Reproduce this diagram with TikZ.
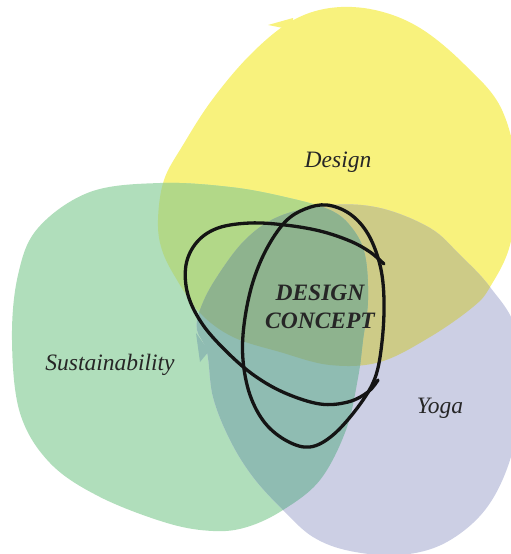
\documentclass[tikz,border=0pt]{standalone}
\usepackage{fontspec}
\setmainfont{Liberation Serif}
\definecolor{cYellow}{HTML}{F8F27D}
\definecolor{cGreen}{HTML}{B0DEBB}
\definecolor{cLav}{HTML}{CCCFE4}
\definecolor{cYG}{HTML}{B2D888}
\definecolor{cYL}{HTML}{CDCB87}
\definecolor{cGL}{HTML}{8FBCB2}
\definecolor{cAll}{HTML}{8EB38E}
\definecolor{cInk}{HTML}{141414}
\definecolor{cText}{HTML}{262626}
% the three blobs, in picture units (1pt, y pointing down)
\def\blobDesign{plot[smooth cycle, tension=0.6] coordinates {
  (290,22) (330,8) (375,10) (420,28) (465,65) (502,110) (518,180) (510,245)
  (490,287) (473,307) (430,337) (380,362) (330,365) (280,352) (233,337)
  (200,313) (177,280) (162,250) (158,220) (164,180) (183,145) (212,100) (250,55)}}
\def\blobSust{plot[smooth cycle, tension=0.6] coordinates {
  (90,192) (160,183) (230,187) (285,197) (330,210) (352,228) (365,255)
  (368,300) (363,340) (358,378) (346,430) (320,480) (283,510) (247,527)
  (213,531) (167,523) (100,497) (50,463) (20,413) (12,340) (18,275) (38,228)}}
\def\blobYoga{plot[smooth cycle, tension=0.6] coordinates {
  (197,330) (207,352) (213,397) (230,440) (253,477) (283,510) (313,537)
  (350,551) (400,555) (445,543) (485,510) (510,460) (520,400) (516,330)
  (490,287) (460,255) (430,228) (380,208) (330,205) (280,216) (245,240)
  (215,280) (200,310)}}
\tikzset{
  inkline/.style={draw=cInk, line width=3.3pt, line cap=round, line join=round},
  label/.style={text=cText, font=\itshape\fontsize{23.5}{28}\selectfont},
}
\begin{document}
\begin{tikzpicture}[x=1pt, y=-1pt]
\useasboundingbox (0,0) rectangle (511,554);
\clip (0,0) rectangle (511,554);
% single blobs
\fill[cYellow] \blobDesign;
\fill[cYellow] (268,25) -- (293,18) -- (293,30) -- cycle;
\fill[cGreen] \blobSust;
\fill[cLav] \blobYoga;
% pairwise overlaps
\begin{scope}
  \clip \blobDesign;
  \fill[cYG] \blobSust;
\end{scope}
\begin{scope}
  \clip \blobDesign;
  \fill[cYL] \blobYoga;
\end{scope}
\begin{scope}
  \clip \blobSust;
  \fill[cGL] \blobYoga;
\end{scope}
\fill[cGL] (196,333) -- (200,362) -- (209,351) -- cycle;
% centre where all three meet
\begin{scope}
  \clip \blobDesign;
  \clip \blobSust;
  \fill[cAll] \blobYoga;
\end{scope}
% hand-drawn loops round the concept
\draw[inkline] plot[smooth cycle, tension=0.6] coordinates {
  (327,205) (350,214) (368,234) (380,265) (384,300) (382,342) (375,378)
  (358,407) (333,435) (310,447) (287,441) (265,423) (250,395) (243,360)
  (244,325) (252,285) (266,250) (285,222) (305,209)};
\draw[inkline] plot[smooth, tension=0.6] coordinates {
  (384,264) (370,252) (350,241) (320,231) (285,225) (250,223) (218,228)
  (197,242) (186,265) (188,295) (203,325) (228,353) (255,376) (285,393)
  (320,404) (348,402) (368,392) (378,380)};
% labels
\node[label, anchor=base] (design) at (338,167) {Design};
\node[label, anchor=base] (sust) at (110,370) {Sustainability};
\node[label, anchor=base] (yoga) at (440,413) {Yoga};
\node[label, font=\bfseries\itshape\fontsize{23.5}{28}\selectfont, align=center] (concept) at (320,307) {DESIGN\\CONCEPT};
\end{tikzpicture}
\end{document}
